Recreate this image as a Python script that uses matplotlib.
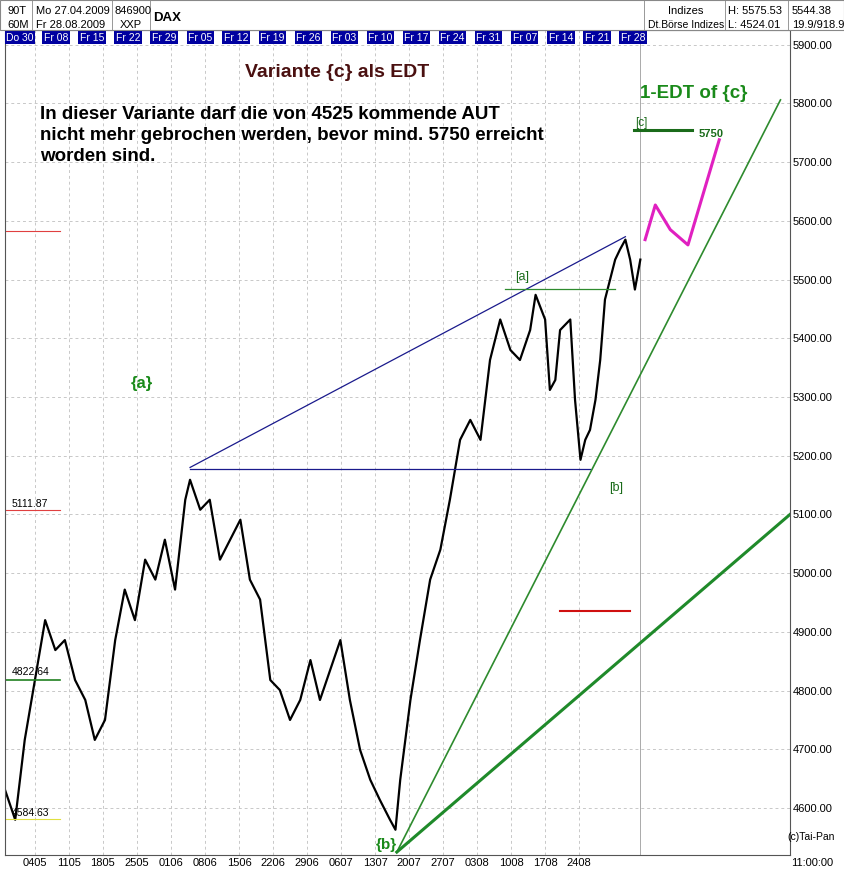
import matplotlib
matplotlib.use("Agg")
import matplotlib.pyplot as plt
from matplotlib.patches import Rectangle

plt.rcParams['font.family'] = ['Liberation Sans', 'DejaVu Sans']

# price path (trading-day index, DAX level)
day = [0.0, 1.5, 2.9, 4.4, 5.9, 7.4, 8.8, 10.3, 11.8, 13.2, 14.7, 16.2, 17.6, 19.1, 20.6, 22.1, 23.5, 25.0, 26.5,
       27.2, 28.7, 30.1, 31.6, 33.1, 34.6, 36.0, 37.5, 39.0, 40.4, 41.9, 43.4, 44.9, 46.3, 47.8, 49.3, 50.7, 52.2,
       53.7, 55.1, 56.6, 57.4, 58.1, 59.6, 61.0, 62.5, 64.0, 65.4, 66.9, 68.4, 69.9, 71.3, 72.8, 74.3, 75.7, 77.2,
       78.0, 79.4, 80.1, 80.9, 81.6, 83.1, 83.8, 84.6, 85.3, 86.0, 86.8, 87.5, 88.2, 89.7, 90.4, 91.2, 91.9, 92.6,
       93.4]
price = [4631, 4580, 4716, 4818, 4920, 4869, 4886, 4818, 4784, 4716, 4750, 4886, 4972, 4920, 5023, 4989, 5057,
         4972, 5125, 5159, 5108, 5125, 5023, 5057, 5091, 4989, 4955, 4818, 4801, 4750, 4784, 4852, 4784, 4835,
         4886, 4784, 4699, 4648, 4614, 4580, 4563, 4648, 4784, 4886, 4989, 5040, 5125, 5227, 5261, 5227, 5363,
         5432, 5380, 5363, 5414, 5474, 5432, 5312, 5329, 5414, 5432, 5295, 5193, 5227, 5244, 5295, 5363, 5466,
         5534, 5551, 5568, 5534, 5483, 5534]

week_ticks = ["04.05", "11.05", "18.05", "25.05", "01.06", "08.06", "15.06", "22.06", "29.06", "06.07",
              "13.07", "20.07", "27.07", "03.08", "10.08", "17.08", "24.08"]
week_boxes = ["Do 30", "Fr 08", "Fr 15", "Fr 22", "Fr 29", "Fr 05", "Fr 12", "Fr 19", "Fr 26", "Fr 03",
              "Fr 10", "Fr 17", "Fr 24", "Fr 31", "Fr 07", "Fr 14", "Fr 21", "Fr 28"]
y_ticks = [4600, 4700, 4800, 4900, 5000, 5100, 5200, 5300, 5400, 5500, 5600, 5700, 5800, 5900]

# pattern lines (day, price)
blue_upper = ([27.2, 91.2], [5180, 5573])
blue_horiz = ([27.2, 86.0], [5178, 5178])
green_a = ([73.5, 89.7], [5484, 5484])
green_fan1 = ([57.6, 114.0], [4525, 5806])
green_fan2 = ([57.6, 115.4], [4525, 5100])
magenta = ([94.1, 95.6, 97.8, 100.4, 105.0], [5568, 5627, 5585, 5559, 5738])
target_c = ([92.4, 101.0], [5755, 5755])
red_mark = ([81.6, 91.9], [4936, 4936])

W, H = 844, 869
fig = plt.figure(figsize=(W/100, H/100), dpi=100)
ax = fig.add_axes([5/W, 14/H, 785/W, 825/H])
ax.set_xlim(0, 115.4)
ax.set_ylim(4520, 5925)

for i in range(len(week_ticks)):
    ax.axvline(4.4 + 5*i, color='#c8c8c8', ls=(0, (3, 3)), lw=0.7)
for v in y_ticks:
    ax.axhline(v, color='#c8c8c8', ls=(0, (3, 3)), lw=0.7)
ax.axvline(93.4, color='#aaaaaa', lw=0.7)

ax.plot(day, price, color='black', lw=1.6)
ax.plot(*blue_upper, color='#1a1a8c', lw=0.9)
ax.plot(*blue_horiz, color='#1a1a8c', lw=0.9)
ax.plot(*green_a, color='#2e8b2e', lw=0.9)
ax.plot(*green_fan1, color='#2e8b2e', lw=1.2)
ax.plot(*green_fan2, color='#1f8a2a', lw=2.2)
ax.plot(*magenta, color='#e020c0', lw=2.2)
ax.plot(*target_c, color='#1a6b1a', lw=2.2)
ax.plot(*red_mark, color='#d01010', lw=1.5)

ax.yaxis.tick_right()
ax.set_yticks(y_ticks)
ax.set_yticklabels([f"{v:.2f}" for v in y_ticks], fontsize=8)
ax.set_xticks([4.4 + 5*i for i in range(len(week_ticks))])
ax.set_xticklabels([t.replace('.', '') for t in week_ticks], fontsize=8)
ax.tick_params(length=0, pad=2)
for s in ax.spines.values():
    s.set_color('#555555')

# week boxes
for i, t in enumerate(week_boxes):
    xd = 2.2 + 5.3*i
    ax.text(xd, 5912, t, fontsize=7.5, color='white', ha='center', va='center',
            bbox=dict(boxstyle='square,pad=0.15', fc='#0000a0', ec='none'))

ax.text(35.3, 5845, "Variante {c} als EDT", fontsize=14, weight='bold', color='#4a1010')
ax.text(5.1, 5795, "In dieser Variante darf die von 4525 kommende AUT\nnicht mehr gebrochen werden, bevor mind. 5750 erreicht\nworden sind.",
        fontsize=13.5, weight='bold', color='black', linespacing=1.3, va='top')
ax.text(93.4, 5810, "1-EDT of {c}", fontsize=13.5, weight='bold', color='#1a8a1a')
ax.text(92.6, 5762, "[c]", fontsize=8.5, color='#1a6b1a')
ax.text(102.0, 5742, "5750", fontsize=8, color='#1a6b1a', weight='bold')
ax.text(75.0, 5500, "[a]", fontsize=9, color='#1a6b1a')
ax.text(88.8, 5140, "[b]", fontsize=9, color='#1a6b1a')
ax.text(18.5, 5315, "{a}", fontsize=12, weight='bold', color='#1a8a1a')
ax.text(56.0, 4530, "{b}", fontsize=11, weight='bold', color='#1a8a1a', ha='center')
ax.text(115, 4545, "(c)Tai-Pan", fontsize=7.5, ha='left')

# left markers
ax.plot([0, 8.1], [5582, 5582], color='#e04040', lw=0.8)
ax.plot([0, 8.1], [5107, 5107], color='#e04040', lw=0.8)
ax.text(1, 5112, "5111.87", fontsize=7.5)
ax.plot([0, 8.1], [4818, 4818], color='#208020', lw=1.2)
ax.text(1, 4826, "4822.64", fontsize=7.5)
ax.plot([0, 8.1], [4581, 4581], color='#e0e040', lw=0.8)
ax.text(1, 4586, "4584.63", fontsize=7.5)

# header
fig.patches.append(Rectangle((0, 1-30/H), 1, 30/H, transform=fig.transFigure, fc='white', ec='#888888', lw=0.8))
def ht(x, y, s, fs=8, **kw):
    fig.text(x/W, 1-y/H, s, fontsize=fs, va='center', **kw)
ht(7, 11, "90T"); ht(7, 25, "60M")
ht(36, 11, "Mo 27.04.2009"); ht(36, 25, "Fr 28.08.2009")
ht(115, 11, "846900"); ht(120, 25, "XXP")
fig.text(153/W, 1-18/H, "DAX", fontsize=9.5, weight='bold', va='center')
ht(686, 11, "Indizes", ha='center'); ht(686, 25, "Dt.Börse Indizes", fs=7.5, ha='center')
ht(728, 11, "H: 5575.53"); ht(728, 25, "L: 4524.01")
ht(792, 11, "5544.38"); ht(792, 25, "19.9/918.9")
for xv in [32, 112, 150, 644, 725, 788]:
    fig.lines.append(plt.Line2D([xv/W, xv/W], [1-30/H, 1], transform=fig.transFigure, color='#888888', lw=0.6))
fig.text(812/W, 6/H, "11:00:00", fontsize=8, ha='center', va='center')

fig.savefig("out.png", dpi=100)
